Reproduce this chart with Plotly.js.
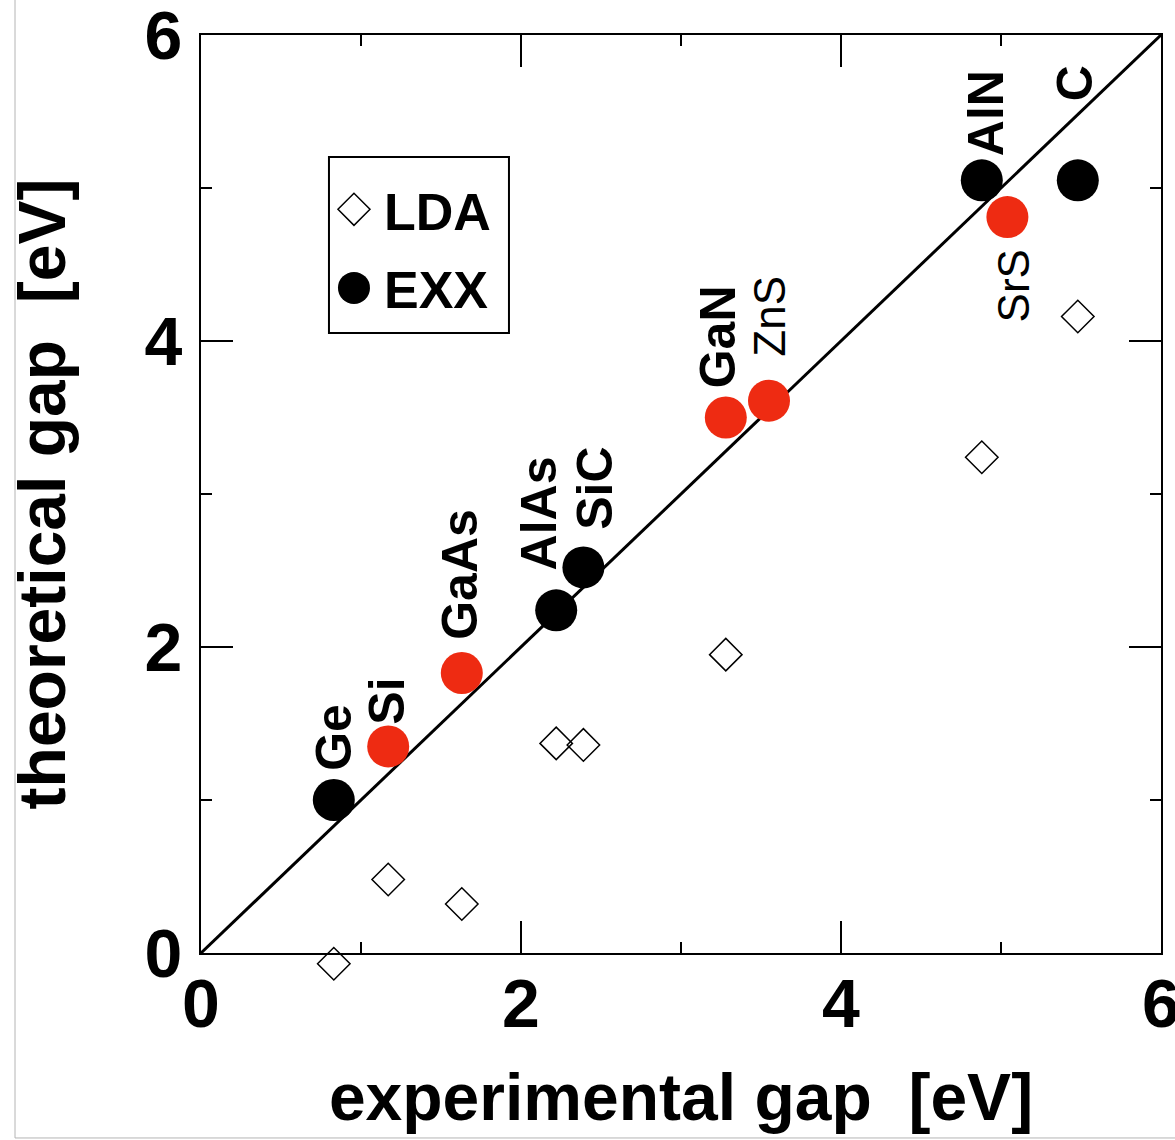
<!DOCTYPE html>
<html>
<head>
<meta charset="utf-8">
<script src="https://cdn.plot.ly/plotly-3.0.1.min.js"></script>
<style>
  html, body { margin: 0; padding: 0; background: #fff; }
  #chart { width: 1175px; height: 1140px; }
</style>
</head>
<body>
<div id="chart"></div>
<script>
// Band gaps of semiconductors and insulators: experiment vs. theory (eV)
const compounds = ['Ge', 'Si', 'GaAs', 'AlAs', 'SiC', 'GaN', 'ZnS', 'AlN', 'SrS', 'C'];
const expGap    = [0.83, 1.17, 1.63, 2.22, 2.39, 3.28, 3.55, 4.88, 5.04, 5.48];
const exxGap    = [1.00, 1.35, 1.83, 2.24, 2.52, 3.50, 3.61, 5.05, 4.81, 5.05];
const ldaGap    = [-0.07, 0.48, 0.32, 1.37, 1.36, 1.95, null, 3.24, null, 4.16];
// compounds drawn in red
const exxRed    = [false, true, true, false, false, true, true, false, true, false];

const axisRange = [0, 6];
const majorTicks = [0, 2, 4, 6];
const minorTicks = [1, 3, 5];

// label placement relative to each EXX marker, in pixels
const labelStyle = {
  Ge:   { dx: 0,   dy: 63,  bold: true },
  Si:   { dx: -1,  dy: 45,  bold: true },
  GaAs: { dx: -2,  dy: 99,  bold: true },
  AlAs: { dx: -17, dy: 97,  bold: true },
  SiC:  { dx: 12,  dy: 79,  bold: true },
  GaN:  { dx: -8,  dy: 81,  bold: true },
  ZnS:  { dx: 1,   dy: 84,  bold: false },
  AlN:  { dx: 5,   dy: 67,  bold: true },
  SrS:  { dx: 6,   dy: -69, bold: false },
  C:    { dx: -2,  dy: 97,  bold: true }
};

const FONT = 'Liberation Sans, Arial, Helvetica, sans-serif';
const RED = '#ee2b12';

const diagonal = {
  x: axisRange, y: axisRange,
  mode: 'lines',
  line: { color: 'black', width: 3 },
  showlegend: false,
  hoverinfo: 'skip'
};

const lda = {
  x: expGap, y: ldaGap, text: compounds,
  name: 'LDA', legendgroup: 'lda',
  mode: 'markers',
  cliponaxis: false,
  marker: { symbol: 'diamond-open', size: 25, color: 'black', line: { width: 1.5, color: 'black' } }
};

const exx = {
  x: expGap, y: exxGap, text: compounds,
  name: 'EXX', legendgroup: 'exx',
  mode: 'markers',
  cliponaxis: false,
  marker: { symbol: 'circle', size: 42, color: exxRed.map(r => r ? RED : 'black'), line: { width: 0 } }
};

const annotations = compounds.map((c, i) => {
  const s = labelStyle[c];
  return {
    x: expGap[i], y: exxGap[i], xref: 'x', yref: 'y',
    text: c, showarrow: false, textangle: -90,
    xanchor: 'center', yanchor: 'middle',
    xshift: s.dx, yshift: s.dy,
    font: s.bold
      ? { family: FONT, size: 50, weight: 700, color: 'black' }
      : { family: FONT, size: 44, weight: 400, color: 'black' }
  };
});

const axisCommon = {
  range: axisRange,
  tickmode: 'array',
  tickvals: majorTicks,
  ticks: 'inside',
  ticklen: 32,
  tickwidth: 2,
  tickcolor: 'black',
  showline: true,
  linewidth: 2,
  linecolor: 'black',
  mirror: 'ticks',
  showgrid: false,
  zeroline: false,
  automargin: false,
  ticklabeloverflow: 'allow',
  tickfont: { family: FONT, size: 68, weight: 700, color: 'black' },
  minor: { tickmode: 'array', tickvals: minorTicks, ticks: 'inside', ticklen: 11, tickwidth: 2, tickcolor: 'black', showgrid: false }
};

const layout = {
  width: 1175, height: 1140,
  margin: { l: 201, r: 14, t: 35, b: 187 },
  paper_bgcolor: 'white',
  plot_bgcolor: 'white',
  showlegend: true,
  xaxis: Object.assign({}, axisCommon, {
    ticklabelstandoff: -10,
    title: { text: 'experimental gap&nbsp;&nbsp;[eV]', standoff: 34,
             font: { family: FONT, size: 66, weight: 700, color: 'black' } }
  }),
  yaxis: Object.assign({}, axisCommon, {
    ticklabelstandoff: 3,
    title: { text: 'theoretical gap&nbsp;&nbsp;[eV]', standoff: 57,
             font: { family: FONT, size: 66, weight: 700, color: 'black' } }
  }),
  legend: {
    x: 0.1281, y: 0.854, xanchor: 'left', yanchor: 'top',
    bgcolor: 'rgba(0,0,0,0)', borderwidth: 0,
    font: { family: FONT, size: 52, weight: 700, color: 'black' },
    traceorder: 'grouped', tracegroupgap: 8,
    itemwidth: 50
  },
  annotations: annotations,
  shapes: [
    // legend frame
    { type: 'rect', xref: 'paper', yref: 'paper', x0: 0.1333, x1: 0.3208, y0: 0.6754, y1: 0.8671,
      fillcolor: 'white', line: { color: 'black', width: 2 } },
    // page edge lines
    { type: 'line', xref: 'paper', yref: 'paper', x0: -0.19375, x1: -0.19375, y0: 1.04, y1: -0.2015,
      line: { color: '#b4b4b4', width: 1 } },
    { type: 'line', xref: 'paper', yref: 'paper', x0: -0.19375, x1: 1.02, y0: -0.2015, y1: -0.2015,
      line: { color: '#b4b4b4', width: 1 } }
  ]
};

Plotly.newPlot('chart', [diagonal, lda, exx], layout, { displayModeBar: false, staticPlot: true })
  .then(gd => {
    // markers sitting just past the axis edge stay visible
    gd.querySelectorAll('.scatterlayer .trace path.point').forEach(p => p.removeAttribute('display'));
    // legend symbols at the same size as the plotted markers
    const scales = [1.54, 2.0];
    gd.querySelectorAll('.legend .traces').forEach((g, i) => {
      g.querySelectorAll('.legendpoints path.scatterpts').forEach(p => {
        const t = p.getAttribute('transform') || '';
        p.setAttribute('transform', t + ' scale(' + scales[i] + ')');
        p.style.vectorEffect = 'non-scaling-stroke';
      });
    });
  });
</script>
</body>
</html>
